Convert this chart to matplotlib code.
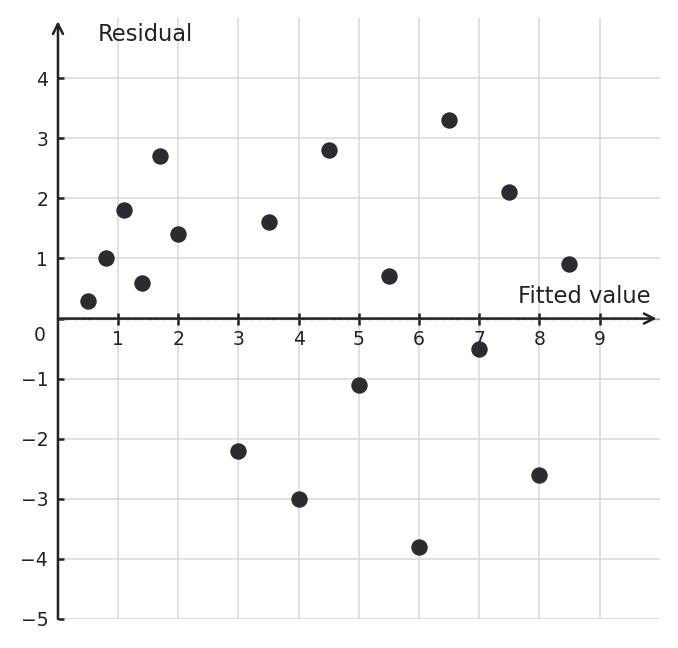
import numpy as np
import matplotlib.pyplot as plt

# residuals vs fitted values
fitted = [0.5, 0.8, 1.1, 1.4, 1.7, 2.0, 3.0, 3.5, 4.0, 4.5, 5.0, 5.5, 6.0, 6.5, 7.0, 7.5, 8.0, 8.5]
resid = [0.3, 1.0, 1.8, 0.6, 2.7, 1.4, -2.2, 1.6, -3.0, 2.8, -1.1, 0.7, -3.8, 3.3, -0.5, 2.1, -2.6, 0.9]

xticks = [1, 2, 3, 4, 5, 6, 7, 8, 9]
yticks = [-5, -4, -3, -2, -1, 0, 1, 2, 3, 4]
ylabels = ['−5', '−4', '−3', '−2', '−1', '', '1', '2', '3', '4']

dark = '#222222'
fs = 13.5

fig = plt.figure(figsize=(6.78, 6.48), dpi=100)
ax = fig.add_axes([0.0855, 0.0448, 0.8875, 0.9272])
ax.set_xlim(0, 10)
ax.set_ylim(-5, 5)

for s in ['top', 'right', 'left']:
    ax.spines[s].set_visible(False)
ax.spines['bottom'].set_position(('data', 0))  # this resets ticks, so set them after
ax.spines['bottom'].set_visible(False)

# ticks + grid
ax.set_xticks(xticks)
ax.set_xticklabels([str(t) for t in xticks])
ax.set_yticks(yticks)
ax.set_yticklabels(ylabels)
ax.grid(True, color='#d9d9d9', linewidth=1.1, zorder=0)
ax.set_axisbelow(True)

ax.tick_params(axis='x', direction='inout', length=8, width=1.8, color=dark, pad=4,
               labelsize=fs, labelcolor=dark)
ax.tick_params(axis='y', direction='in', length=4, width=1.8, color=dark, pad=7,
               labelsize=fs, labelcolor=dark)

# dashed zero line under the axis
ax.axhline(0, color='#999999', linestyle='--', linewidth=1.0, zorder=1)

# axis arrows
ax.annotate('', xy=(9.95, 0), xytext=(0, 0), xycoords='data',
            arrowprops=dict(arrowstyle='->', color=dark, lw=1.8, mutation_scale=18,
                            shrinkA=0, shrinkB=0), zorder=3, annotation_clip=False)
ax.annotate('', xy=(0, 4.95), xytext=(0, -5), xycoords='data',
            arrowprops=dict(arrowstyle='->', color=dark, lw=1.8, mutation_scale=18,
                            shrinkA=0, shrinkB=0), zorder=3, annotation_clip=False)

ax.scatter(fitted, resid, s=140, color='#2b2c31', zorder=4, linewidths=0)

ax.text(0.66, 4.72, 'Residual', fontsize=16.3, color=dark, va='center', ha='left')
ax.text(9.85, 0.36, 'Fitted value', fontsize=16.3, color=dark, va='center', ha='right')
ax.text(-0.3, -0.28, '0', fontsize=fs, color=dark, va='center', ha='center')

fig.savefig('out.png', dpi=100)
